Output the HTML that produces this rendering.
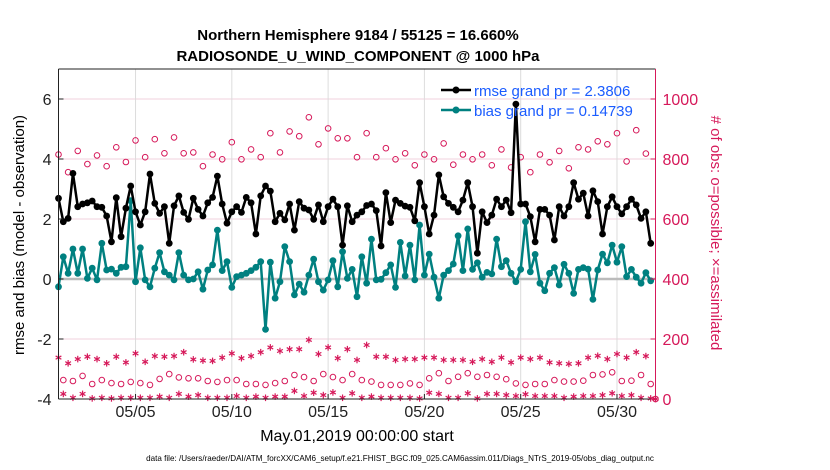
<!DOCTYPE html>
<html><head><meta charset="utf-8">
<style>
html,body{margin:0;padding:0;background:#fff;}
svg{display:block;font-family:"Liberation Sans",Arial,sans-serif;}
</style></head>
<body>
<svg id="chart" width="830" height="470" viewBox="0 0 830 470" xmlns="http://www.w3.org/2000/svg">
<text x="358" y="40" text-anchor="middle" font-size="15" font-weight="bold">Northern Hemisphere 9184 / 55125 = 16.660%</text>
<text x="358" y="61" text-anchor="middle" font-size="15" font-weight="bold">RADIOSONDE_U_WIND_COMPONENT @ 1000 hPa</text>
<g id="grid"></g>
<g id="obs"></g>
<g id="lines"></g>
<g id="axes"></g>
<text transform="translate(24,235) rotate(-90)" text-anchor="middle" font-size="15">rmse and bias (model - observation)</text>
<text transform="translate(711,233) rotate(90)" text-anchor="middle" font-size="15" fill="#d6195a"># of obs: o=possible; ×=assimilated</text>
<text x="357" y="441" text-anchor="middle" font-size="16">May.01,2019 00:00:00 start</text>
<text x="400" y="461" text-anchor="middle" font-size="8.1">data file: /Users/raeder/DAI/ATM_forcXX/CAM6_setup/f.e21.FHIST_BGC.f09_025.CAM6assim.011/Diags_NTrS_2019-05/obs_diag_output.nc</text>
<g id="legend">
  <line x1="441" y1="90" x2="471" y2="90" stroke="#000" stroke-width="2.5"/>
  <circle cx="456" cy="90" r="3.5" fill="#000"/>
  <text x="474" y="96" font-size="15" fill="#1a5cff">rmse grand pr = 2.3806</text>
  <line x1="441" y1="110" x2="471" y2="110" stroke="#008080" stroke-width="2.5"/>
  <circle cx="456" cy="110" r="3.5" fill="#008080"/>
  <text x="474" y="116" font-size="15" fill="#1a5cff">bias grand pr = 0.14739</text>
</g>
</svg>
<script>
const rmse = [2.69,1.91,2.02,3.52,2.41,2.5,2.54,2.6,2.41,2.39,2.1,1.24,2.71,1.41,2.36,3.1,2.24,1.8,2.24,3.5,2.52,2.19,2.41,1.19,2.44,2.77,2.22,1.99,2.69,2.32,2.1,2.54,2.72,3.43,2.5,1.86,2.24,2.41,2.22,2.72,2.54,1.5,2.77,3.1,2.93,1.91,2.19,1.97,2.5,1.63,2.58,2.36,2.3,1.99,2.47,1.91,2.41,2.66,2.41,1.13,2.44,1.91,2.13,2.24,2.45,2.5,2.28,1.1,2.88,1.88,2.63,2.52,2.43,2.39,1.94,3.21,2.41,1.5,2.13,3.47,2.74,2.52,2.39,2.24,2.63,3.21,2.41,0.86,2.24,1.88,2.13,2.66,2.41,2.63,2.21,5.83,2.5,2.5,2.08,1.24,2.32,2.32,2.13,1.3,2.41,2.1,2.41,3.21,2.66,2.86,2.1,2.94,2.58,1.5,2.41,2.74,2.41,2.17,2.41,2.66,2.47,2.02,2.24,1.19];
const bias = [-0.26,0.74,0.19,1.0,0.19,1.0,0.02,0.36,-0.03,1.19,0.3,0.33,0.19,0.39,0.41,2.61,-0.09,1.04,-0.03,-0.26,0.36,0.88,0.24,0.13,-0.03,0.88,0.13,-0.03,0,0.24,-0.34,0.3,0.47,1.63,0.28,0.58,-0.28,0.08,0.13,0.19,0.28,0.39,0.58,-1.68,0.56,-0.64,-0.09,1.08,0.58,-0.53,-0.17,-0.44,0.13,0.66,-0.09,-0.37,-0.03,0.61,-0.26,0.91,0.02,0.32,-0.59,0.74,-0.14,1.33,-0.03,-0.01,0.21,0.47,-0.28,1.22,0.1,1.13,-0.03,1.8,0.13,0.83,0.06,-0.64,0.13,0.28,0.5,1.44,0.28,1.67,0.32,0.54,0.06,0.22,0.17,1.33,0.41,0.61,0.19,-0.09,0.32,1.91,0.24,0.82,-0.14,-0.39,0.19,0.38,-0.2,0.49,0.19,-0.48,0.32,0.38,0.33,-0.68,0.3,0.83,0.54,1.13,0.56,1.08,0.08,0.32,0.06,-0.14,0.21,-0.06];
// 00/12 UTC obs counts (even 6-hourly steps), last at Jun 01 00Z
const possible00 = [815,756,827,783,812,776,839,790,862,806,866,819,872,819,822,776,815,799,856,799,832,806,886,822,892,876,939,849,902,869,869,806,886,806,836,799,819,779,815,799,852,781,815,799,815,779,832,772,806,756,815,789,827,769,839,832,859,849,886,792,896,818,0];
const used00 = [138,119,133,141,133,119,141,122,152,124,143,141,143,156,132,128,127,138,152,136,143,156,172,160,166,166,197,150,172,136,166,130,180,141,141,130,133,133,138,138,130,130,130,124,133,124,138,122,138,133,138,122,119,117,119,138,144,133,150,138,156,143,0];
// 06/18 UTC obs counts (odd steps)
const possible06 = [63,60,77,50,63,53,50,57,53,47,67,83,72,69,69,60,57,63,63,50,50,47,53,60,80,73,60,83,73,63,83,63,58,47,47,47,52,47,69,86,60,74,86,74,80,74,66,52,47,50,50,63,58,58,61,80,82,89,60,61,80,50];
const used06 = [17,4,17,2,4,2,4,4,4,4,8,4,17,8,13,4,4,4,10,4,8,4,8,8,27,10,21,13,22,4,19,4,8,4,4,4,4,2,21,17,4,4,19,2,17,17,13,10,16,10,10,10,4,8,10,10,13,19,10,13,4,2];
const leftTicks = [-4,-2,0,2,4,6];
const rightTicks = [0,200,400,600,800,1000];
const dateTicks = [4,9,14,19,24,29]; // days after May 01
const dateLabels = ["05/05","05/10","05/15","05/20","05/25","05/30"];

const NS="http://www.w3.org/2000/svg";
const X0=58.5, X1=655.5, Y0=69, Y1=399;
const xDay = d => X0 + d*(X1-X0)/31;
const xStep = i => xDay(i/4);
const yL = v => Y1 - (v+4)*(Y1-Y0)/11;
const yR = v => Y1 - v*(Y1-Y0)/1100;
const PINK="#d6195a";
function mk(tag,attrs,parent){const e=document.createElementNS(NS,tag);for(const k in attrs)e.setAttribute(k,attrs[k]);parent.appendChild(e);return e;}
const grid=document.getElementById('grid'),obs=document.getElementById('obs'),lines=document.getElementById('lines'),axes=document.getElementById('axes');

rightTicks.forEach(v=>{const l=mk('line',{x1:X0,x2:X1,y1:yR(v),y2:yR(v),stroke:'#f0d0dc','stroke-width':1},grid);

});
dateTicks.forEach(d=>{const l=mk('line',{x1:xDay(d),x2:xDay(d),y1:Y0,y2:Y1,stroke:'#dcdcdc','stroke-width':1},grid);

});
const zl=mk('line',{x1:X0,x2:X1,y1:yL(0),y2:yL(0),stroke:'#bbbbbb','stroke-width':2.5},grid);



function circ(cx,cy){const c=mk('circle',{cx:cx,cy:cy,r:2.8,fill:'none',stroke:PINK,'stroke-width':1},obs);return c;}
function star(cx,cy){const g=mk('g',{stroke:PINK,'stroke-width':1.2},obs);const s=3.3;
mk('line',{x1:cx,x2:cx,y1:cy-s,y2:cy+s},g);
mk('line',{x1:cx-s*0.87,x2:cx+s*0.87,y1:cy-s*0.5,y2:cy+s*0.5},g);
mk('line',{x1:cx-s*0.87,x2:cx+s*0.87,y1:cy+s*0.5,y2:cy-s*0.5},g);return g;}
possible00.forEach((v,k)=>{const c=circ(xStep(2*k),yR(v));

});
possible06.forEach((v,k)=>{const c=circ(xStep(2*k+1),yR(v));

});
used00.forEach((v,k)=>{const g=star(xStep(2*k),yR(v));

});
used06.forEach((v,k)=>{const g=star(xStep(2*k+1),yR(v));

});

function series(data,color,name){
const p=mk('polyline',{points:data.map((v,i)=>xStep(i)+','+yL(v)).join(' '),fill:'none',stroke:color,'stroke-width':2.5,'stroke-linejoin':'round'},lines);


data.forEach((v,i)=>{const c=mk('circle',{cx:xStep(i),cy:yL(v),r:3.4,fill:color},lines);

});}
series(bias,'#008080','bias');
series(rmse,'#000000','rmse');

const ax=[['line',{x1:X0,x2:X1,y1:Y0,y2:Y0,stroke:'#222','stroke-width':1},'top-border'],
['line',{x1:X0,x2:X1,y1:Y1,y2:Y1,stroke:'#222','stroke-width':1},'x-axis'],
['line',{x1:X0,x2:X0,y1:Y0,y2:Y1,stroke:'#222','stroke-width':1},'y-axis-left'],
['line',{x1:X1,x2:X1,y1:Y0,y2:Y1,stroke:PINK,'stroke-width':1},'y-axis-right']];
ax.forEach(a=>{const e=mk(a[0],a[1],axes);

});
leftTicks.forEach(v=>{const t=mk('text',{x:X0-7,y:yL(v)+6,'text-anchor':'end','font-size':16,fill:'#222'},axes);t.textContent=String(v);


mk('line',{x1:X0,x2:X0+5,y1:yL(v),y2:yL(v),stroke:'#222'},axes);});
rightTicks.forEach(v=>{const t=mk('text',{x:X1+7,y:yR(v)+6,'font-size':16,fill:PINK},axes);t.textContent=String(v);


mk('line',{x1:X1-5,x2:X1,y1:yR(v),y2:yR(v),stroke:PINK},axes);});
dateTicks.forEach((d,k)=>{const t=mk('text',{x:xDay(d),y:417,'text-anchor':'middle','font-size':16,fill:'#222'},axes);t.textContent=dateLabels[k];


mk('line',{x1:xDay(d),x2:xDay(d),y1:Y1-5,y2:Y1,stroke:'#222'},axes);});
</script>
</body></html>
